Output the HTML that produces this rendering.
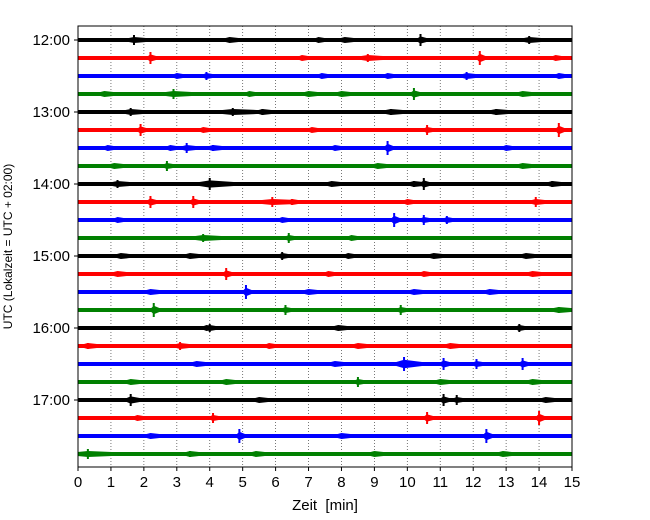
<!DOCTYPE html>
<html><head><meta charset="utf-8"><style>
body{margin:0;background:#fff}
svg{display:block;font-family:"Liberation Sans","DejaVu Sans",sans-serif}
</style></head><body>
<svg id="c" width="650" height="520"></svg>
<script>
const hourLabels=["12:00","13:00","14:00","15:00","16:00","17:00"];
const xTicks=[0,1,2,3,4,5,6,7,8,9,10,11,12,13,14,15];
const colors=["#000000","#ff0000","#0000ff","#008000"];
// events per trace: [minute, amplitude(units), duration(min)]
const events=[
[[1.7,5,.4],[4.6,2,.3],[7.3,2,.2],[8.1,2,.3],[10.4,6,.2],[13.7,4,.4]],
[[2.2,6,.15],[6.8,2,.2],[8.8,4,.5],[12.2,7,.15],[14.5,2,.2]],
[[3,2,.2],[3.9,4,.2],[7.4,2,.2],[9.4,2,.2],[11.8,4,.3],[14.6,2,.2]],
[[0.8,2,.3],[2.9,5,.6],[5.2,2,.2],[7,2,.3],[8,2,.3],[10.2,6,.2],[13.5,2,.3]],
[[1.6,4,.4],[4.7,4,.8],[5.6,3,.3],[9.5,3,.4],[12.7,3,.4]],
[[1.9,6,.15],[3.8,2,.2],[7.1,2,.2],[10.6,5,.15],[14.6,7,.15]],
[[0.9,2,.2],[2.8,2,.2],[3.3,5,.3],[4.1,3,.3],[7.8,2,.2],[9.4,7,.15],[13,2,.2]],
[[1.1,2,.3],[2.7,5,.2],[9.1,2,.3],[13.5,2,.3]],
[[1.2,4,.4],[4,6,.8],[7.7,2,.3],[10.2,3,.3],[10.5,6,.15],[14.4,3,.3]],
[[2.2,6,.2],[3.5,6,.15],[5.9,5,.8],[6.5,3,.2],[10,2,.2],[13.9,5,.3]],
[[1.2,2,.2],[6.2,2,.2],[9.6,7,.15],[10.5,5,.15],[11.2,4,.15]],
[[3.8,4,.6],[6.4,5,.15],[8.3,2,.2]],
[[1.3,2,.3],[3.4,2,.3],[6.2,4,.2],[8.2,2,.2],[10.8,2,.3],[13.6,2,.3]],
[[1.2,2,.3],[4.5,6,.15],[7.6,2,.2],[10.5,2,.2],[13.8,2,.3]],
[[2.2,2,.3],[5.1,7,.15],[7,2,.3],[10.2,2,.3],[12.5,2,.3]],
[[2.3,7,.15],[6.3,5,.15],[9.8,5,.15],[14.6,3,.4]],
[[3.9,2,.2],[4,4,.2],[7.9,2,.3],[13.4,4,.15]],
[[0.3,3,.3],[3.1,4,.3],[5.8,2,.2],[8.5,2,.3],[11.3,2,.3]],
[[3.6,2,.3],[7.8,2,.3],[9.9,7,.6],[11.1,6,.2],[12.1,5,.2],[13.5,6,.15]],
[[1.6,2,.3],[4.5,2,.3],[8.5,5,.15],[11,2,.3],[13.8,2,.3]],
[[1.6,6,.3],[5.5,2,.3],[11.1,6,.15],[11.5,5,.2],[14.2,2,.3]],
[[1.8,2,.2],[4.1,5,.15],[10.6,6,.2],[14,7,.15]],
[[2.2,2,.3],[4.9,7,.15],[8,2,.3],[12.4,7,.2]],
[[0.3,5,.8],[3.4,3,.3],[5.4,2,.3],[9,2,.3],[12.9,2,.3]]
];
const L=78,R=572,T=26,B=467,Y0=40,DY=18;
const sx=m=>L+(R-L)*m/15, sy=i=>Y0+i*DY;
const svg=document.getElementById('c');const NS='http://www.w3.org/2000/svg';
function mk(t,a,p){const e=document.createElementNS(NS,t);for(const k in a)e.setAttribute(k,a[k]);(p||svg).appendChild(e);return e;}
xTicks.forEach(v=>{
 const g=mk('line',{x1:sx(v),x2:sx(v),y1:T,y2:B,stroke:'#555','stroke-width':.8,'stroke-dasharray':'1,2'});
 
 
 const t=mk('line',{x1:sx(v),x2:sx(v),y1:B,y2:B+4,stroke:'#000','stroke-width':1});
 
 
 const l=mk('text',{x:sx(v),y:B+20,'text-anchor':'middle','font-size':15,fill:'#000'});l.textContent=v;
 
 
});
events.forEach((ev,i)=>{
 const c=colors[i%4],y=sy(i);
 const tr=mk('g',{});
 
 
 mk('rect',{x:L,y:y-2,width:R-L,height:4,fill:c},tr);
 ev.forEach(e=>{
  const x=sx(e[0]),w=Math.max(8,(R-L)*e[2]/15*1.3),a=e[1];
  const h=Math.max(3,a*0.6);
  const p=mk('polygon',{points:`${x-w*0.3},${y-2} ${x},${y-h} ${x+w*0.7},${y-2} ${x+w*0.7},${y+2} ${x},${y+h} ${x-w*0.3},${y+2}`,fill:c},tr);
  
  
  mk('rect',{x:x-1,y:y-a,width:2,height:2*a,fill:c},tr);
 });
});
hourLabels.forEach((h,k)=>{
 const y=sy(k*4);
 const t=mk('line',{x1:L-4,x2:L,y1:y,y2:y,stroke:'#000'});
 
 
 const l=mk('text',{x:L-8,y:y+5,'text-anchor':'end','font-size':15,fill:'#000'});l.textContent=h;
 
 
});
const f=mk('rect',{x:L,y:T,width:R-L,height:B-T,fill:'none',stroke:'#000','stroke-width':1});


const xl=mk('text',{x:(L+R)/2,y:510,'text-anchor':'middle','font-size':15,fill:'#000',style:'white-space:pre'});xl.textContent='Zeit  [min]';


const yl=mk('text',{x:0,y:0,'text-anchor':'middle','font-size':12,fill:'#000',transform:`translate(12,${(T+B)/2}) rotate(-90)`});yl.textContent='UTC (Lokalzeit = UTC + 02:00)';


</script>
</body></html>
